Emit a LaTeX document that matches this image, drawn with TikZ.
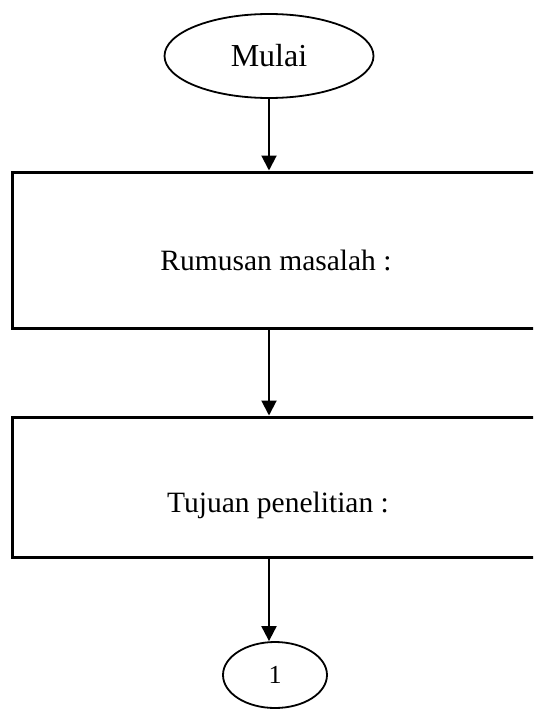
\documentclass[tikz,border=0pt]{standalone}
\usepackage{fontspec}
\setmainfont{Liberation Serif}
\usetikzlibrary{shapes.geometric,arrows.meta}
\begin{document}
\begin{tikzpicture}[x=1pt,y=-1pt,
  terminal/.style={ellipse,draw,line width=1.8pt,inner sep=0pt},
  processbox/.style={rectangle,draw,line width=3pt,inner sep=0pt,minimum width=528pt},
  boxtext/.style={font=\fontsize{29.5}{35}\selectfont,yshift=-10pt},
  flow/.style={line width=2pt,-{Triangle[length=15pt,width=15pt]}}]
  \clip (0,0) rectangle (533,709);
  \fill[white] (0,0) rectangle (533,709);

  % start and connector terminals
  \node[terminal,minimum width=209pt,minimum height=84pt,
        font=\fontsize{32}{38}\selectfont] (mulai) at (269,56) {Mulai};
  \node[terminal,minimum width=104pt,minimum height=66pt,
        font=\fontsize{26}{31}\selectfont] (one) at (275,675) {1};

  % process steps (right sides run past the page edge)
  \node[processbox,minimum height=156pt,
        label={[boxtext]center:Rumusan masalah :}] (rumusan) at (276,250) {};
  \node[processbox,minimum height=140pt,
        label={[boxtext,xshift=2pt,yshift=-8pt]center:Tujuan penelitian :}] (tujuan) at (276,487) {};

  % flow arrows
  \draw[flow] (mulai.south) -- (mulai.south |- rumusan.north);
  \draw[flow] (mulai.south |- rumusan.south) -- (mulai.south |- tujuan.north);
  \draw[flow] (mulai.south |- tujuan.south) -- (mulai.south |- one.north);
\end{tikzpicture}
\end{document}
